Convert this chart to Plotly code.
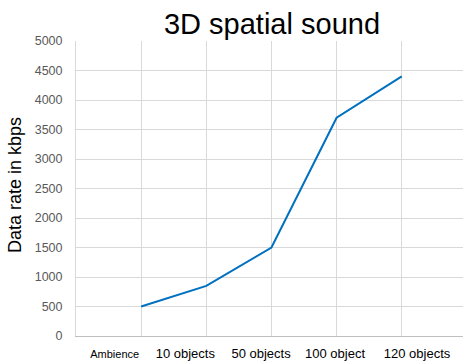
import plotly.graph_objects as go

# Data rate per audio configuration (kbps)
categories = ["Ambience", "10 objects", "50 objects", "100 object", "120 objects"]
data_rate = [500, 850, 1500, 3700, 4400]
point_slots = [1, 2, 3, 4, 5]
label_slots = [0.594, 1.678, 2.84, 3.976, 5.235]
y_ticks = list(range(0, 5001, 500))

W, H = 463, 363
fig = go.Figure()
fig.add_trace(go.Scatter(
    x=point_slots, y=data_rate, mode="lines",
    line=dict(color="#0070C0", width=2), showlegend=False,
))

tick_text = [f'<span style="font-size:11px">{c}</span>' if i == 0 else c
             for i, c in enumerate(categories)]

sans = "Liberation Sans, Arial"
fig.update_layout(
    width=W, height=H,
    margin=dict(l=76, r=0, t=41, b=27),
    paper_bgcolor="white", plot_bgcolor="white",
    title=dict(text="3D spatial sound", x=272 / W, xanchor="center",
               y=1 - 24 / H, yanchor="middle",
               font=dict(family=sans, size=29, color="black")),
    font=dict(family=sans, color="#595959"),
)
fig.update_xaxes(
    range=[0, 5.94], tickmode="array", tickvals=label_slots, ticktext=tick_text,
    showgrid=False, ticks="outside", ticklen=5, tickcolor="rgba(0,0,0,0)",
    tickfont=dict(size=13, color="black"),
    showline=True, linecolor="#bfbfbf", linewidth=1,
    minor=dict(tickmode="linear", tick0=0, dtick=1, showgrid=True,
               gridcolor="#d9d9d9", gridwidth=1, ticks=""),
    zeroline=False,
)
fig.update_yaxes(
    range=[0, 5000], tickmode="array", tickvals=y_ticks,
    showgrid=True, gridcolor="#d9d9d9", gridwidth=1,
    ticks="outside", ticklen=10, tickcolor="rgba(0,0,0,0)",
    tickfont=dict(size=12.5, color="#595959"),
    showline=True, linecolor="#d9d9d9", linewidth=1, zeroline=False,
)
fig.add_annotation(
    text="Data rate in kbps", textangle=-90, xref="paper", yref="paper",
    x=-(76 - 15) / (W - 76), y=(336 - 185) / (336 - 41),
    xanchor="center", yanchor="middle", showarrow=False,
    font=dict(family=sans, size=18, color="black"),
)
fig.write_html("out.html")
